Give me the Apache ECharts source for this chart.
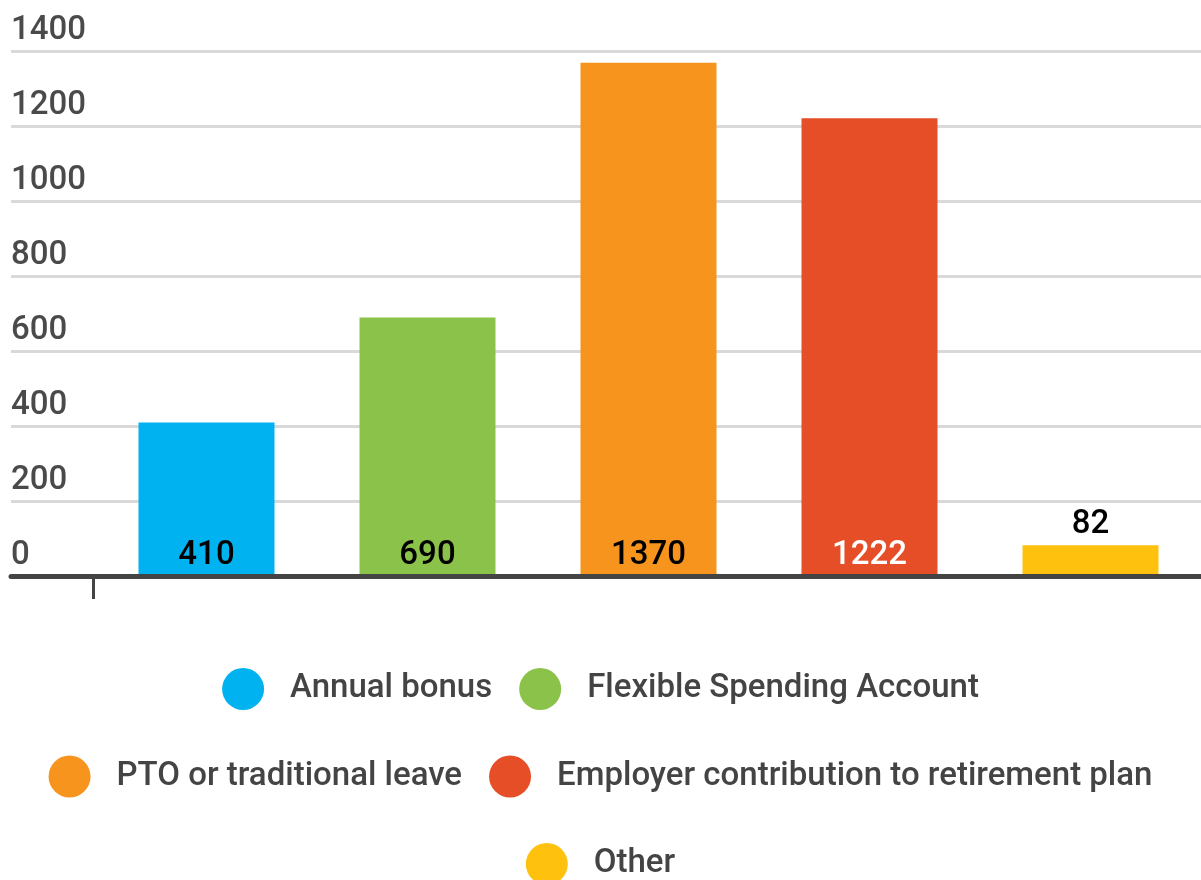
<!DOCTYPE html>
<html>
<head>
<meta charset="utf-8">
<script src="https://cdn.jsdelivr.net/npm/echarts@6/dist/echarts.min.js"></script>
<style>
  html, body { margin: 0; padding: 0; background: #fff; }
  #chart { width: 1201px; height: 880px; }
</style>
</head>
<body>
<div id="chart"></div>
<script>
  const benefits = [
    "Annual bonus",
    "Flexible Spending Account",
    "PTO or traditional leave",
    "Employer contribution to retirement plan",
    "Other",
  ];
  const counts = [410, 690, 1370, 1222, 82];
  const colors = ["#00b2ef", "#8bc34a", "#f7941d", "#e54e27", "#fec10e"];
  const labelColors = ["#000", "#000", "#000", "#fff", "#000"];
  const legendRows = [[0, 1], [2, 3], [4]];

  const myChart = echarts.init(document.getElementById("chart"));
  const font = "Roboto";

  const series = benefits.map((name, i) => ({
    name: name,
    type: "bar",
    xAxisIndex: 1,
    yAxisIndex: 1,
    data: [counts[i]],
    barWidth: 136,
    barGap: "62.5%",
    itemStyle: { color: colors[i] },
    label: {
      show: true,
      position: counts[i] < 150 ? "top" : "insideBottom",
      distance: 4,
      color: labelColors[i],
      fontFamily: font,
      fontSize: 33,
      fontWeight: 500,
    },
  }));

  // one legend per row so each row is centred on its own
  const legends = legendRows.map((row, r) => ({
    data: row.map((i) => benefits[i]),
    left: "center",
    top: 663 + r * 87.5,
    icon: "circle",
    itemWidth: 42,
    itemHeight: 42,
    itemGap: 27,
    selectedMode: false,
    textStyle: {
      fontFamily: font,
      fontSize: 33,
      fontWeight: 500,
      color: "#444",
      padding: [0, 0, 0, 21],
    },
  }));

  const option = {
    animation: false,
    grid: [
      { left: 11, right: 0, top: 51.5, bottom: 304 },
      // right edge pushed just off the canvas so only the left tick shows
      { left: 93, right: -3, top: 51.5, bottom: 304, outerBoundsMode: "none" },
    ],
    xAxis: [
      {
        type: "category",
        gridIndex: 0,
        data: [""],
        z: 10,
        axisLine: { lineStyle: { color: "#444", width: 5 } },
        axisTick: { show: false },
        axisLabel: { show: false },
      },
      {
        type: "category",
        gridIndex: 1,
        data: [""],
        axisLine: { show: false },
        axisTick: {
          show: true,
          length: 23,
          lineStyle: { color: "#444", width: 3 },
        },
        axisLabel: { show: false },
      },
    ],
    yAxis: [
      {
        type: "value",
        gridIndex: 0,
        min: 0,
        max: 1400,
        interval: 200,
        axisLine: { show: false },
        axisTick: { show: false },
        splitLine: { lineStyle: { color: "#d9d9d9", width: 3 } },
        axisLabel: {
          inside: true,
          margin: 0,
          verticalAlign: "bottom",
          padding: [0, 0, 4, 0],
          formatter: (v) => String(v),
          fontFamily: font,
          fontSize: 33,
          fontWeight: 500,
          color: "#4a4a4a",
        },
      },
      {
        type: "value",
        gridIndex: 1,
        min: 0,
        max: 1400,
        interval: 200,
        show: false,
        splitLine: { show: false },
      },
    ],
    legend: legends,
    series: series,
  };

  myChart.setOption(option);
</script>
</body>
</html>
